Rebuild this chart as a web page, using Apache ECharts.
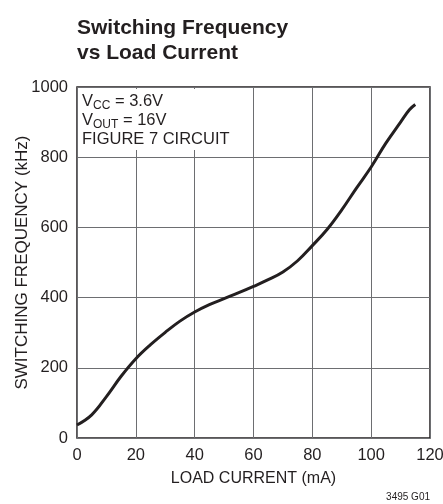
<!DOCTYPE html>
<html>
<head>
<meta charset="utf-8">
<script src="https://cdn.jsdelivr.net/npm/echarts@6/dist/echarts.min.js"></script>
<style>
  html, body { margin: 0; padding: 0; background: #fff; }
  #chart { width: 443px; height: 504px; }
</style>
</head>
<body>
<div id="chart"></div>
<script>
// load current (mA) vs switching frequency (kHz)
const loadCurrent = [0, 5, 10, 15, 20, 25, 30, 35, 40, 45, 50, 55, 60, 65, 70, 75, 80, 85, 90, 95, 100, 105, 110, 113, 115];
const frequency = [37, 66, 118, 176, 226, 266, 301, 333, 359, 380, 397, 414, 432, 451, 473, 505, 548, 594, 650, 712, 772, 840, 900, 935, 950];
const xTicks = [0, 20, 40, 60, 80, 100, 120];
const yTicks = [0, 200, 400, 600, 800, 1000];

const font = "'Liberation Sans', Arial, sans-serif";
const ink = "#231f20";

const chart = echarts.init(document.getElementById("chart"));

chart.setOption({
  backgroundColor: "#fff",
  animation: false,
  title: [
    {
      text: "Switching Frequency\nvs Load Current",
      left: 77,
      top: 16,
      padding: 0,
      textStyle: {
        fontFamily: font,
        fontWeight: "bold",
        fontSize: 21,
        lineHeight: 25,
        color: ink,
      },
    },
    {
      // conditions box, white background hides the grid behind it
      text: "{n|V}{s|CC}{n| = 3.6V}\n{n|V}{s|OUT}{n| = 16V}\n{n|FIGURE 7 CIRCUIT}",
      left: 79,
      top: 90,
      padding: [2, 14, 2, 3],
      backgroundColor: "#fff",
      textStyle: {
        fontWeight: "normal",
        rich: {
          n: { fontFamily: font, fontWeight: "normal", fontSize: 16.5, lineHeight: 19, color: ink },
          s: { fontFamily: font, fontWeight: "normal", fontSize: 12, lineHeight: 19, color: ink, padding: [9, 0, 0, 0] },
        },
      },
    },
  ],
  graphic: [
    {
      type: "text",
      right: 13,
      bottom: 2,
      style: { text: "3495 G01", fontFamily: font, fontSize: 10, fill: ink },
    },
  ],
  grid: {
    left: 77,
    right: 13,
    top: 87,
    bottom: 66,
    containLabel: false,
    outerBoundsMode: "none",
    show: true,
    borderColor: ink,
    borderWidth: 1.5,
  },
  xAxis: {
    type: "value",
    min: 0,
    max: 120,
    interval: 20,
    name: "LOAD CURRENT (mA)",
    nameLocation: "middle",
    nameGap: 33,
    nameMoveOverlap: false,
    nameTextStyle: { fontFamily: font, fontSize: 16, color: ink },
    axisLine: { show: false },
    axisTick: { show: false },
    axisLabel: {
      margin: 9,
      fontFamily: font,
      fontSize: 16.5,
      color: ink,
      formatter: (v) => (xTicks.includes(v) ? String(v) : ""),
    },
    splitLine: { lineStyle: { color: "#6d6e71", width: 1 } },
  },
  yAxis: {
    type: "value",
    min: 0,
    max: 1000,
    interval: 200,
    name: "SWITCHING FREQUENCY (kHz)",
    nameLocation: "middle",
    nameGap: 46,
    nameMoveOverlap: false,
    nameTextStyle: { fontFamily: font, fontSize: 17, color: ink },
    axisLine: { show: false },
    axisTick: { show: false },
    axisLabel: {
      margin: 9,
      fontFamily: font,
      fontSize: 16.5,
      color: ink,
      formatter: (v) => (yTicks.includes(v) ? String(v) : ""),
    },
    splitLine: { lineStyle: { color: "#6d6e71", width: 1 } },
  },
  series: [
    {
      type: "line",
      data: loadCurrent.map((x, i) => [x, frequency[i]]),
      smooth: 0.4,
      showSymbol: false,
      lineStyle: { color: ink, width: 3 },
      z: 3,
    },
  ],
});
</script>
</body>
</html>
